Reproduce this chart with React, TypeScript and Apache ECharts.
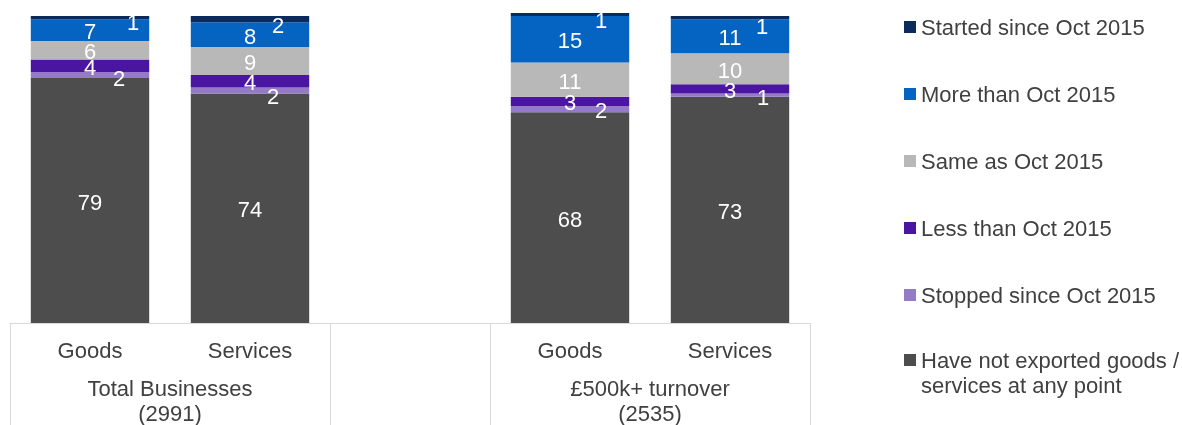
import React, { useEffect, useRef } from "react";
import * as echarts from "echarts";

const categories = ["Goods", "Services", "", "Goods", "Services"];
const groupLabels = ["Total Businesses\n(2991)", "£500k+ turnover\n(2535)"];

const seriesNames = [
  "Have not exported goods / services at any point",
  "Stopped since Oct 2015",
  "Less than Oct 2015",
  "Same as Oct 2015",
  "More than Oct 2015",
  "Started since Oct 2015",
];

const haveNot = [79, 74, null, 68, 73];
const stopped = [2, 2, null, 2, 1];
const less = [4, 4, null, 3, 3];
const same = [6, 9, null, 11, 10];
const more = [7, 8, null, 15, 11];
const started = [1, 2, null, 1, 1];

const seriesValues = [haveNot, stopped, less, same, more, started];
const colors = ["#4d4d4d", "#957ac8", "#4a15a0", "#b8b8b8", "#0563c1", "#0b2b5c"];

// label nudges (styling only) for the thin segments
const stoppedLabelOffsets = [[29, 3], [23, 6], null, [31, 1], [33, 2]];
const startedLabelOffsets = [[43, 5], [28, 6], null, [31, 6], [32, 9]];

const FONT = '"Liberation Sans", Arial, sans-serif';
const TEXT = "#404040";
const FS = 22;

export default function App() {
  const ref = useRef<HTMLDivElement>(null);

  useEffect(() => {
    if (!ref.current) return;
    const chart = echarts.init(ref.current, null, { renderer: "svg" });

    const series = seriesNames.map((name, si) => {
      const offsets = si === 1 ? stoppedLabelOffsets : si === 5 ? startedLabelOffsets : null;
      return {
        name,
        type: "bar",
        stack: "total",
        barWidth: "74%",
        itemStyle: { color: colors[si] },
        label: {
          show: true,
          position: "inside",
          color: "#ffffff",
          fontSize: FS,
          fontFamily: FONT,
          offset: [0, 1.5],
        },
        data: seriesValues[si].map((v, ci) => {
          if (v === null) return "-";
          const o = offsets ? offsets[ci] : null;
          return o ? { value: v, label: { offset: o } } : { value: v };
        }),
      };
    });

    const option = {
      animation: false,
      textStyle: { fontFamily: FONT },
      grid: { left: 10, right: 372, top: 13, bottom: 102, containLabel: false },
      xAxis: {
        type: "category",
        data: categories,
        axisLine: { show: true, lineStyle: { color: "#d9d9d9", width: 1 } },
        axisTick: {
          show: true,
          length: 105,
          interval: (idx: number) => idx === 0 || idx === 2 || idx === 3,
          lineStyle: { color: "#d9d9d9", width: 1 },
        },
        axisLabel: {
          interval: 0,
          margin: 14.5,
          fontSize: FS,
          lineHeight: 25,
          color: TEXT,
          fontFamily: FONT,
        },
      },
      yAxis: {
        type: "value",
        min: 0,
        max: 100,
        show: false,
        splitLine: { show: false },
      },
      legend: [
        {
          orient: "vertical",
          left: 904,
          top: 14.5,
          padding: 0,
          itemGap: 42,
          itemWidth: 12,
          itemHeight: 12,
          icon: "rect",
          selectedMode: false,
          data: [seriesNames[5], seriesNames[4], seriesNames[3], seriesNames[2], seriesNames[1]],
          textStyle: { fontSize: FS, lineHeight: 25, color: TEXT, fontFamily: FONT },
        },
        {
          orient: "vertical",
          left: 904,
          top: 322.5,
          padding: 0,
          itemWidth: 12,
          itemHeight: 12,
          icon: "rect",
          selectedMode: false,
          data: [seriesNames[0]],
          formatter: () => " \nHave not exported goods /\nservices at any point",
          textStyle: {
            fontSize: FS,
            lineHeight: 25,
            color: TEXT,
            fontFamily: FONT,
          },
        },
      ],
      graphic: [
        {
          type: "text",
          x: 170,
          y: 375.5,
          style: {
            text: groupLabels[0],
            align: "center",
            verticalAlign: "top",
            fontSize: FS,
            lineHeight: 25,
            fill: TEXT,
            fontFamily: FONT,
          },
        },
        {
          type: "text",
          x: 650,
          y: 375.5,
          style: {
            text: groupLabels[1],
            align: "center",
            verticalAlign: "top",
            fontSize: FS,
            lineHeight: 25,
            fill: TEXT,
            fontFamily: FONT,
          },
        },
      ],
      series,
    };

    chart.setOption(option as any);
    return () => chart.dispose();
  }, []);

  return (
    <div
      ref={ref}
      style={{ position: "fixed", left: 0, top: 0, width: 1182, height: 425 }}
    />
  );
}
